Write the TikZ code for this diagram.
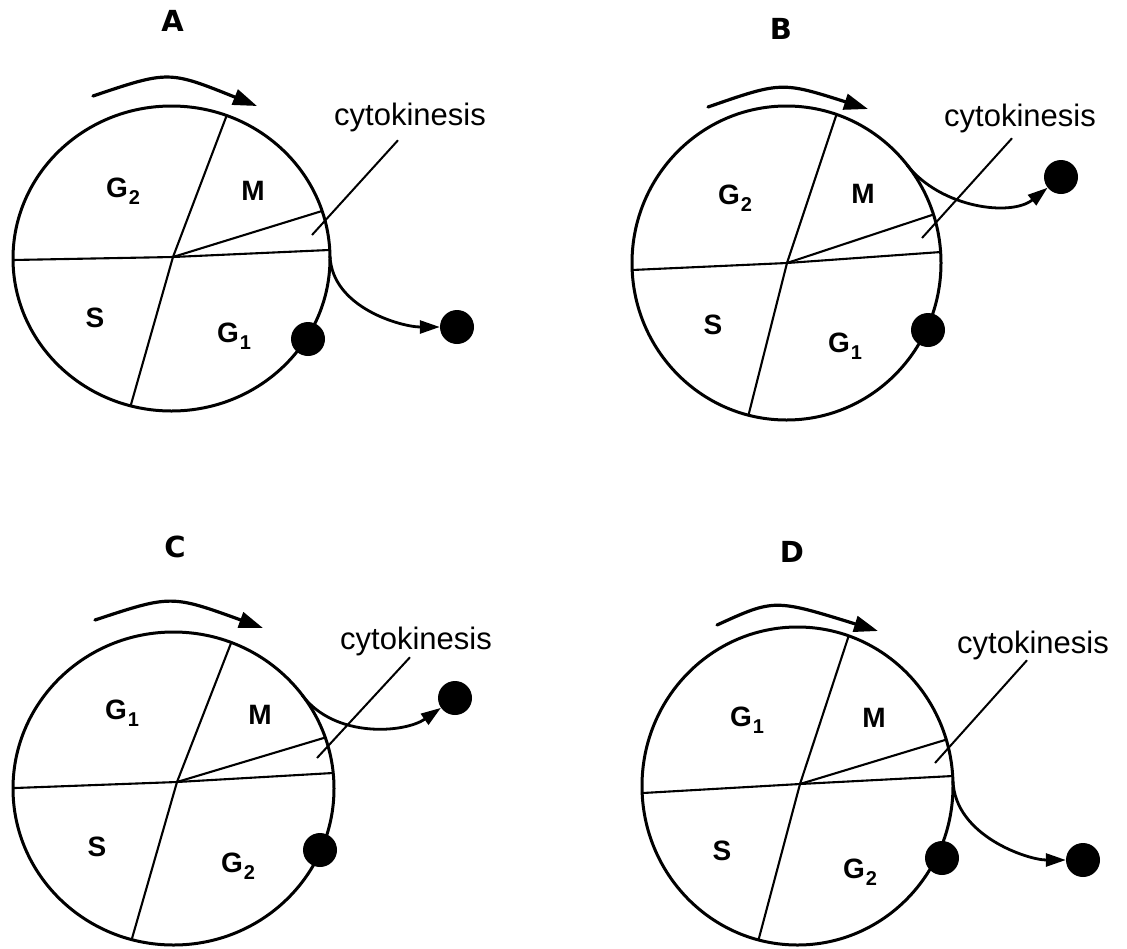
\documentclass[tikz,border=0pt]{standalone}
\usepackage{fontspec}
\setmainfont{Liberation Sans}
\newfontfamily\heavyfont{DejaVu Sans}
\usetikzlibrary{arrows.meta,calc}
\newcommand{\phs}[2]{#1\rlap{\kern1pt\smash{\raisebox{-7pt}{\fontsize{20}{20}\selectfont #2}}}}
\begin{document}
\begin{tikzpicture}[x=1pt,y=-1pt,
  ring/.style={line width=3pt},
  divider/.style={line width=2.1pt},
  cyclearrow/.style={line width=3.2pt,line cap=round,-{Triangle[length=24pt,width=16pt]}},
  exitarrow/.style={line width=2.8pt,-{Triangle[length=20pt,width=13pt]}},
  pointer/.style={line width=2pt},
  dot/.style={circle,fill=black,inner sep=0pt,minimum size=34pt},
  phase/.style={font=\fontsize{28}{28}\selectfont\bfseries,inner sep=0pt},
  panel/.style={font=\heavyfont\fontsize{29}{29}\selectfont\bfseries,inner sep=0pt},
  cyto/.style={font=\fontsize{31}{31}\selectfont,inner sep=0pt}]
\useasboundingbox (0,0) rectangle (1127,948);

% ================= Panel A =================
\coordinate (cA) at (171.5,258.5);
\coordinate (hA) at (173,257);
\begin{scope}
  \clip (cA) ellipse [x radius=158.5pt, y radius=152.5pt];
  \draw[divider] (hA) -- ($(hA)!1.15!(13,260)$);
  \draw[divider] (hA) -- ($(hA)!1.15!(329,250)$);
  \draw[divider] (hA) -- ($(hA)!1.15!(228,112)$);
  \draw[divider] (hA) -- ($(hA)!1.15!(130,408)$);
  \draw[divider] (hA) -- ($(hA)!1.15!(322,211)$);
\end{scope}
\draw[ring] (cA) ellipse [x radius=158.5pt, y radius=152.5pt];
\draw[cyclearrow] (93,96) .. controls (168.7,70.5) .. (257,106);
\node[panel] (lA) at (172.5,21) {A};
\node[phase] (g2A) at (117,188) {\phs{G}{2}};
\node[phase] (mA) at (253,191) {M};
\node[phase] (sA) at (95,318) {S};
\node[phase] (g1A) at (228,333) {\phs{G}{1}};
\node[dot] (onA) at (308,339) {};
\node[dot] (outA) at (457,327) {};
\coordinate (exA) at (330,256);
\draw[exitarrow] (exA) .. controls +(2,52) and +(-55,0) .. (outA);
\node[cyto] (kA) at (410,117) {cytokinesis};
\coordinate (pA) at (312,235);
\draw[pointer] ([xshift=-12pt,yshift=-8.6pt]kA.south) -- (pA);

% ================= Panel B =================
\coordinate (cB) at (786.5,263);
\coordinate (hB) at (787,263);
\begin{scope}
  \clip (cB) ellipse [x radius=154.5pt, y radius=157pt];
  \draw[divider] (hB) -- ($(hB)!1.15!(632,270)$);
  \draw[divider] (hB) -- ($(hB)!1.15!(941,252)$);
  \draw[divider] (hB) -- ($(hB)!1.15!(838,110)$);
  \draw[divider] (hB) -- ($(hB)!1.15!(748,417)$);
  \draw[divider] (hB) -- ($(hB)!1.15!(935,214)$);
\end{scope}
\draw[ring] (cB) ellipse [x radius=154.5pt, y radius=157pt];
\draw[cyclearrow] (708,107) .. controls (781.5,81.5) .. (868,109);
\node[panel] (lB) at (781,29) {B};
\node[phase] (g2B) at (729,195) {\phs{G}{2}};
\node[phase] (mB) at (863,194) {M};
\node[phase] (sB) at (713,325) {S};
\node[phase] (g1B) at (839,343) {\phs{G}{1}};
\node[dot] (onB) at (928,330) {};
\node[dot] (outB) at (1061,177) {};
\coordinate (exB) at (907,165);
\draw[exitarrow] (exB) .. controls +(34,43) and +(-50,40) .. (outB);
\node[cyto] (kB) at (1020,118) {cytokinesis};
\coordinate (pB) at (922,238);
\draw[pointer] ([xshift=-8pt,yshift=-5.6pt]kB.south) -- (pB);

% ================= Panel C =================
\coordinate (cC) at (173.5,788.5);
\coordinate (hC) at (177,782);
\begin{scope}
  \clip (cC) ellipse [x radius=160.5pt, y radius=156.5pt];
  \draw[divider] (hC) -- ($(hC)!1.15!(15,788)$);
  \draw[divider] (hC) -- ($(hC)!1.15!(333,773)$);
  \draw[divider] (hC) -- ($(hC)!1.15!(233,638)$);
  \draw[divider] (hC) -- ($(hC)!1.15!(133,935)$);
  \draw[divider] (hC) -- ($(hC)!1.15!(327,737)$);
\end{scope}
\draw[ring] (cC) ellipse [x radius=160.5pt, y radius=156.5pt];
\draw[cyclearrow] (95,620) .. controls (171.2,594.8) .. (263,628);
\node[panel] (lC) at (175,547) {C};
\node[phase] (g1C) at (116,710) {\phs{G}{1}};
\node[phase] (mC) at (260,715) {M};
\node[phase] (sC) at (97,847) {S};
\node[phase] (g2C) at (232,863) {\phs{G}{2}};
\node[dot] (onC) at (320,850) {};
\node[dot] (outC) at (455,698) {};
\coordinate (exC) at (302,695);
\draw[exitarrow] (exC) .. controls +(33,44) and +(-50,35) .. (outC);
\node[cyto] (kC) at (416,641) {cytokinesis};
\coordinate (pC) at (317,758);
\draw[pointer] ([xshift=-6pt,yshift=-1.6pt]kC.south) -- (pC);

% ================= Panel D =================
\coordinate (cD) at (797.5,786);
\coordinate (hD) at (800,784);
\begin{scope}
  \clip (cD) ellipse [x radius=155.5pt, y radius=159pt];
  \draw[divider] (hD) -- ($(hD)!1.15!(643,793)$);
  \draw[divider] (hD) -- ($(hD)!1.15!(953,776)$);
  \draw[divider] (hD) -- ($(hD)!1.15!(848,638)$);
  \draw[divider] (hD) -- ($(hD)!1.15!(759,938)$);
  \draw[divider] (hD) -- ($(hD)!1.15!(945,740)$);
\end{scope}
\draw[ring] (cD) ellipse [x radius=155.5pt, y radius=159pt];
\draw[cyclearrow] (717,625) .. controls (774.3,598.8) .. (878,631);
\node[panel] (lD) at (792,552) {D};
\node[phase] (g1D) at (741,717) {\phs{G}{1}};
\node[phase] (mD) at (874,718) {M};
\node[phase] (sD) at (722,851) {S};
\node[phase] (g2D) at (854,869) {\phs{G}{2}};
\node[dot] (onD) at (942,858) {};
\node[dot] (outD) at (1083,860) {};
\coordinate (exD) at (953,781);
\draw[exitarrow] (exD) .. controls +(2,55) and +(-55,0) .. (outD);
\node[cyto] (kD) at (1033,645) {cytokinesis};
\coordinate (pD) at (935,763);
\draw[pointer] ([xshift=-6pt,yshift=-0.6pt]kD.south) -- (pD);
\end{tikzpicture}
\end{document}
